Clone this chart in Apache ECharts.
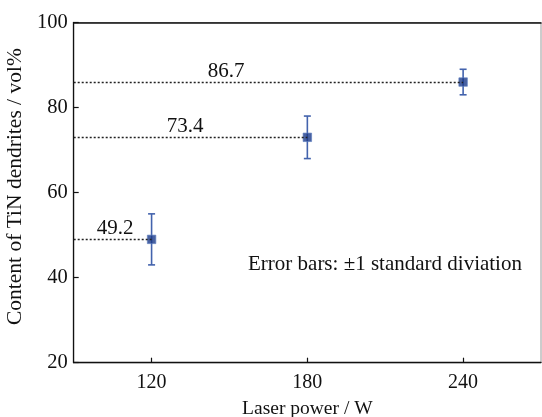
<!DOCTYPE html>
<html><head><meta charset="utf-8">
<script src="https://cdn.jsdelivr.net/npm/echarts@6/dist/echarts.min.js"></script>
<style>html,body{margin:0;padding:0;background:#fff}#c{width:542px;height:417px}</style>
</head><body><div id="c"></div>
<script>
const powers = [120, 180, 240];
const contents = [49.0, 73.0, 86.0];
const errLow = [43, 68, 83];
const errHigh = [55, 78, 89];
const valueLabels = ['49.2', '73.4', '86.7'];
const xTicks = [120, 180, 240];
const yTicks = [20, 40, 60, 80, 100];

const FONT = '"Liberation Serif", "Times New Roman", serif';
const labelDist = [23, 93, 134];

const chart = echarts.init(document.getElementById('c'));
chart.setOption({
  animation: false,
  grid: {left: 73.7, right: 1, top: 22.5, bottom: 54.3, outerBoundsMode: 'none', containLabel: false,
         show: true, borderColor: '#9a9a9a', borderWidth: 1},
  xAxis: [{
    type: 'value', min: 90, max: 270,
    name: 'Laser power / W', nameLocation: 'middle', nameGap: 36,
    nameTextStyle: {fontFamily: FONT, fontSize: 19.5, color: '#111'},
    axisLine: {show: true, lineStyle: {color: '#111', width: 1.3}},
    axisTick: {show: true, inside: true, length: 5, customValues: xTicks, lineStyle: {color: '#111', width: 1.2}},
    axisLabel: {customValues: xTicks, margin: 10, fontFamily: FONT, fontSize: 20, color: '#111'},
    splitLine: {show: false}
  }, {
    type: 'value', min: 90, max: 270, position: 'top',
    axisLine: {show: true, lineStyle: {color: '#111', width: 1.5}},
    axisTick: {show: false}, axisLabel: {show: false}, splitLine: {show: false}
  }],
  yAxis: {
    type: 'value', min: 20, max: 100, interval: 20,
    name: 'Content of TiN dendrites / vol%', nameLocation: 'middle', nameGap: 38.5, nameRotate: 90,
    nameTextStyle: {fontFamily: FONT, fontSize: 21.5, color: '#111', padding: [0, 0, 0, 12]},
    axisLine: {show: true, lineStyle: {color: '#111', width: 1.3}},
    axisTick: {show: true, inside: true, length: 5, lineStyle: {color: '#111', width: 1.2}},
    axisLabel: {margin: 6, fontFamily: FONT, fontSize: 20.5, color: '#111', formatter: v => yTicks.includes(v) ? String(v) : ''},
    splitLine: {show: false}
  },
  graphic: [{
    type: 'text', left: 248, top: 254,
    style: {text: 'Error bars: \u00b11 standard diviation', font: '21px ' + FONT, fill: '#111'}
  }],
  series: [{
    type: 'custom',
    data: powers.map((p, i) => [p, errLow[i], errHigh[i]]),
    renderItem: function (params, api) {
      const lo = api.coord([api.value(0), api.value(1)]);
      const hi = api.coord([api.value(0), api.value(2)]);
      const w = 3.5;
      const st = {stroke: '#4363ad', lineWidth: 1.6};
      return {type: 'group', children: [
        {type: 'line', shape: {x1: lo[0], y1: lo[1], x2: hi[0], y2: hi[1]}, style: st},
        {type: 'line', shape: {x1: lo[0] - w, y1: lo[1], x2: lo[0] + w, y2: lo[1]}, style: st},
        {type: 'line', shape: {x1: hi[0] - w, y1: hi[1], x2: hi[0] + w, y2: hi[1]}, style: st}
      ]};
    },
    z: 2
  }, {
    type: 'scatter',
    data: powers.map((p, i) => [p, contents[i]]),
    symbol: 'rect', symbolSize: 8.5,
    itemStyle: {color: '#1a3a8a', borderColor: '#5f7fc0', borderWidth: 0.8},
    z: 3,
    markLine: {
      silent: true, symbol: 'none',
      lineStyle: {type: [2, 2], color: '#222', width: 1.3},
      label: {show: true, position: 'insideStartTop', fontFamily: FONT, fontSize: 21, color: '#111'},
      data: powers.map((p, i) => [
        {coord: [90, contents[i]], label: {formatter: valueLabels[i], distance: [labelDist[i], 0]}},
        {coord: [p, contents[i]]}
      ])
    }
  }]
});
</script></body></html>
